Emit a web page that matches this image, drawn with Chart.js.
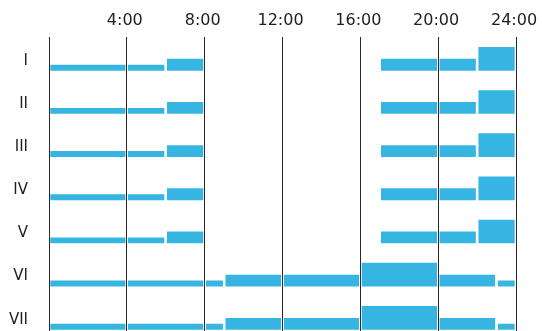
<!DOCTYPE html>
<html>
<head>
<meta charset="utf-8">
<script src="https://cdn.jsdelivr.net/npm/chart.js@4/dist/chart.umd.min.js"></script>
<style>
  html, body { margin: 0; padding: 0; background: #fff; }
  #wrap { width: 542px; height: 331px; }
</style>
</head>
<body>
<div id="wrap"><canvas id="schedule"></canvas></div>
<script>
// rows and hour ticks
const ROWS = ['I', 'II', 'III', 'IV', 'V', 'VI', 'VII'];
const HOUR_TICKS = [0, 4, 8, 12, 16, 20, 24];
const HOUR_LABELS = ['', '4:00', '8:00', '12:00', '16:00', '20:00', '24:00'];

// weekday segments (rows I - V)
const WEEKDAY_START = [0, 4, 6, 17, 20, 22];
const WEEKDAY_END   = [4, 6, 8, 20, 22, 24];
const WEEKDAY_LEVEL = [1, 1, 2, 2, 2, 4];

// weekend segments (rows VI - VII)
const WEEKEND_START = [0, 4, 8, 9, 12, 16, 20, 23];
const WEEKEND_END   = [4, 8, 9, 12, 16, 20, 23, 24];
const WEEKEND_LEVEL = [1, 1, 1, 2, 2, 4, 2, 1];

const ROW_KIND = ['weekday', 'weekday', 'weekday', 'weekday', 'weekday', 'weekend', 'weekend'];

const BAR_COLOR = '#37b5e2';
const LEVEL_SIZE = 0.137;   // row units per level step
const GAP = 0.06;           // hours trimmed off each side of a segment

const plans = {
  weekday: { start: WEEKDAY_START, end: WEEKDAY_END, level: WEEKDAY_LEVEL },
  weekend: { start: WEEKEND_START, end: WEEKEND_END, level: WEEKEND_LEVEL }
};

// one filled line per segment, base at the row's baseline
const datasets = [];
ROWS.forEach(function(name, r) {
  const plan = plans[ROW_KIND[r]];
  const base = r + 1;
  plan.start.forEach(function(s, i) {
    const top = base - plan.level[i] * LEVEL_SIZE;
    datasets.push({
      label: name + ' ' + s,
      data: [{ x: s + GAP, y: top }, { x: plan.end[i] - GAP, y: top }],
      backgroundColor: BAR_COLOR,
      borderColor: 'rgba(0,0,0,0)',
      borderWidth: 0,
      pointRadius: 0,
      fill: { value: base }
    });
  });
});

new Chart(document.getElementById('schedule'), {
  type: 'line',
  data: { datasets: datasets },
  options: {
    responsive: true,
    maintainAspectRatio: false,
    animation: false,
    layout: { padding: { top: 0, right: 26, bottom: 0, left: 0 } },
    plugins: {
      legend: { display: false },
      tooltip: { enabled: false }
    },
    scales: {
      x: {
        type: 'linear',
        position: 'top',
        min: 0,
        max: 24,
        afterBuildTicks: function(scale) {
          scale.ticks = HOUR_TICKS.map(function(v) { return { value: v }; });
        },
        afterFit: function(scale) {
          scale.height = 37;
          scale.paddingLeft = 0;
          scale.paddingRight = 0;
        },
        grid: { color: '#2a2a2a', lineWidth: 1, drawTicks: false },
        border: { display: false },
        ticks: {
          padding: 7,
          labelOffset: -2,
          maxRotation: 0,
          autoSkip: false,
          color: '#1e1e1e',
          font: { family: 'Verdana, "DejaVu Sans"', size: 16 },
          callback: function(v) {
            return HOUR_LABELS[HOUR_TICKS.indexOf(v)];
          }
        }
      },
      y: {
        type: 'linear',
        reverse: true,
        min: 0.22,
        max: 7.03,
        afterBuildTicks: function(scale) {
          scale.ticks = ROWS.map(function(_, i) { return { value: i + 1 }; });
        },
        afterFit: function(scale) {
          scale.width = 49;
          scale.paddingTop = 0;
          scale.paddingBottom = 0;
        },
        grid: { display: false },
        border: { display: false },
        ticks: {
          padding: 13,
          labelOffset: -10,
          autoSkip: false,
          color: '#1e1e1e',
          font: { family: 'Verdana, "DejaVu Sans"', size: 15 },
          callback: function(v) { return ROWS[v - 1]; }
        }
      }
    }
  }
});
</script>
</body>
</html>
